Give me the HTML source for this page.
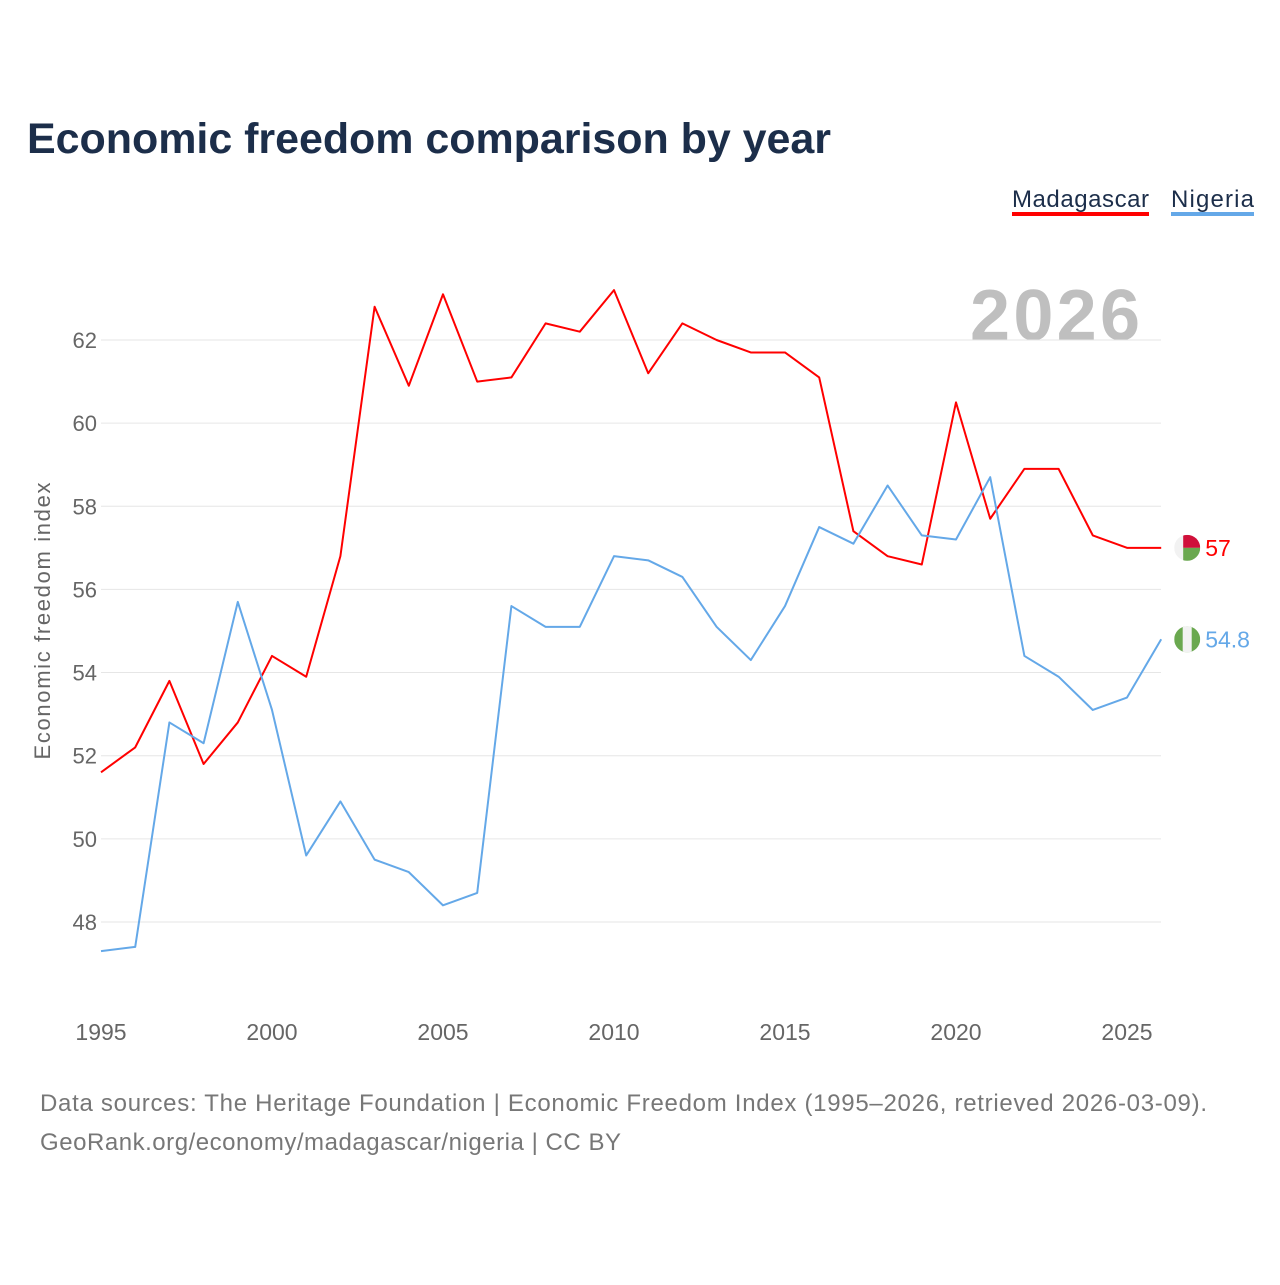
<!DOCTYPE html>
<html><head><meta charset="utf-8">
<style>
body{margin:0;background:#fff;width:1280px;height:1280px;overflow:hidden;font-family:"Liberation Sans",sans-serif}
svg text{font-family:"Liberation Sans",sans-serif}
</style></head>
<body>
<svg id="chart" width="1280" height="1280">
<text x="27" y="153" font-size="43" font-weight="bold" fill="#1c2e4a" textLength="804">Economic freedom comparison by year</text>
<g>
<text x="1012" y="207" font-size="24" fill="#1c2e4a" textLength="137">Madagascar</text>
<rect x="1012" y="212" width="137" height="4" fill="#ff0000"/>
<text x="1171" y="207" font-size="24" fill="#1c2e4a" textLength="83">Nigeria</text>
<rect x="1171" y="212" width="83" height="4" fill="#64a8e8"/>
</g>
<text x="1140" y="340" font-size="72" font-weight="bold" fill="#bfbfbf" text-anchor="end" textLength="170">2026</text>
<g id="grid"></g>
<g id="xaxis"></g>
<g id="yaxis"></g>
<text transform="translate(50,621) rotate(-90)" font-size="22" fill="#666" text-anchor="middle" textLength="277">Economic freedom index</text>
<g id="series"></g>
<text x="40" y="1111" font-size="24" fill="#777" textLength="1167">Data sources: The Heritage Foundation | Economic Freedom Index (1995–2026, retrieved 2026-03-09).</text>
<text x="40" y="1150" font-size="24" fill="#777" textLength="581">GeoRank.org/economy/madagascar/nigeria | CC BY</text>
</svg>
<script>
const years=[1995,1996,1997,1998,1999,2000,2001,2002,2003,2004,2005,2006,2007,2008,2009,2010,2011,2012,2013,2014,2015,2016,2017,2018,2019,2020,2021,2022,2023,2024,2025,2026];
const madagascar=[51.6,52.2,53.8,51.8,52.8,54.4,53.9,56.8,62.8,60.9,63.1,61.0,61.1,62.4,62.2,63.2,61.2,62.4,62.0,61.7,61.7,61.1,57.4,56.8,56.6,60.5,57.7,58.9,58.9,57.3,57.0,57.0];
const nigeria=[47.3,47.4,52.8,52.3,55.7,53.1,49.6,50.9,49.5,49.2,48.4,48.7,55.6,55.1,55.1,56.8,56.7,56.3,55.1,54.3,55.6,57.5,57.1,58.5,57.3,57.2,58.7,54.4,53.9,53.1,53.4,54.8];
const yTicks=[48,50,52,54,56,58,60,62];
const xTicks=[1995,2000,2005,2010,2015,2020,2025];
const NS="http://www.w3.org/2000/svg";
const X=y=>101+(y-1995)*34.2;
const Y=v=>340+(62-v)*41.57;
function mk(tag,attrs,parent,txt){const e=document.createElementNS(NS,tag);for(const k in attrs)e.setAttribute(k,attrs[k]);if(txt!==undefined)e.textContent=txt;parent.appendChild(e);return e;}
const grid=document.getElementById('grid'),ya=document.getElementById('yaxis'),xa=document.getElementById('xaxis'),ser=document.getElementById('series');
yTicks.forEach(t=>{
 const l=mk('line',{x1:101,x2:1161,y1:Y(t),y2:Y(t),stroke:'#e6e6e6','stroke-width':1},grid);
 
 
 const tx=mk('text',{x:97,y:Y(t)+8,'font-size':22,fill:'#666','text-anchor':'end'},ya,t);
 
 
});
xTicks.forEach(t=>{
 const tx=mk('text',{x:X(t),y:1040,'font-size':23,fill:'#666','text-anchor':'middle'},xa,t);
 
 
});
function line(vals,color,name){
 const p=mk('polyline',{points:vals.map((v,i)=>X(years[i])+','+Y(v)).join(' '),fill:'none',stroke:color,'stroke-width':2,'stroke-linejoin':'round'},ser);
 
 
 const lv=vals[vals.length-1],lx=X(years[years.length-1]),ly=Y(lv);
 return {lv,lx,ly};
}
const m=line(madagascar,'#ff0000','madagascar');
const n=line(nigeria,'#64a8e8','nigeria');
let g=mk('g',{},ser);


const cx1=m.lx+26;
mk('clipPath',{id:'c1'},g);
mk('circle',{cx:cx1,cy:m.ly,r:13},g.lastChild);
const g1=mk('g',{'clip-path':'url(#c1)'},g);
mk('rect',{x:cx1-13,y:m.ly-13,width:26,height:26,fill:'#f2f2f2'},g1);
mk('rect',{x:cx1-4,y:m.ly-13,width:17,height:13,fill:'#d0103a'},g1);
mk('rect',{x:cx1-4,y:m.ly,width:17,height:13,fill:'#6aa84f'},g1);
const t1=mk('text',{x:cx1+18,y:m.ly+8,'font-size':23,fill:'#ff0000'},ser,m.lv);


g=mk('g',{},ser);


const cx2=n.lx+26;
mk('clipPath',{id:'c2'},g);
mk('circle',{cx:cx2,cy:n.ly,r:13},g.lastChild);
const g2=mk('g',{'clip-path':'url(#c2)'},g);
mk('rect',{x:cx2-13,y:n.ly-13,width:26,height:26,fill:'#6aa84f'},g2);
mk('rect',{x:cx2-4.5,y:n.ly-13,width:9,height:26,fill:'#f2f2f2'},g2);
const t2=mk('text',{x:cx2+18,y:n.ly+8,'font-size':23,fill:'#64a8e8'},ser,n.lv);


</script>
</body></html>
